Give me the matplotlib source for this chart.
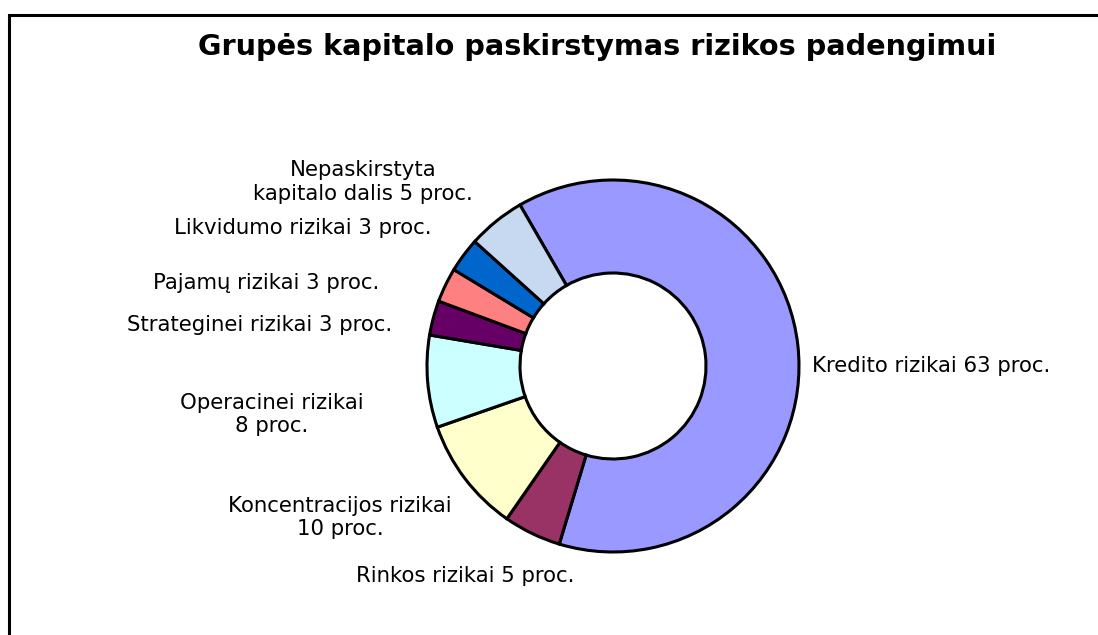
import matplotlib.pyplot as plt
from matplotlib.patches import Rectangle

# Duomenys
kategorijos = ["Kredito rizikai 63 proc.", "Rinkos rizikai 5 proc.",
               "Koncentracijos rizikai\n10 proc.", "Operacinei rizikai\n8 proc.",
               "Strateginei rizikai 3 proc.", "Pajamų rizikai 3 proc.",
               "Likvidumo rizikai 3 proc.", "Nepaskirstyta\nkapitalo dalis 5 proc."]
reiksmes = [63, 5, 10, 8, 3, 3, 3, 5]
spalvos = ["#9999FF", "#993366", "#FFFFCC", "#CCFFFF", "#660066", "#FF8080",
           "#0066CC", "#C6D9F0"]

# Etikečių vietos (ašies koordinatės, spindulys = 1)
etik_vietos = [(1.07, 0.0, 'left'), (-0.796, -1.13, 'center'), (-1.468, -0.815, 'center'),
               (-1.833, -0.261, 'center'), (-1.188, 0.220, 'right'), (-1.258, 0.446, 'right'),
               (-0.978, 0.742, 'right'), (-1.344, 0.989, 'center')]

fig = plt.figure(figsize=(10.98, 6.35), dpi=100)
fig.patch.set_facecolor('white')

# Rėmelis (matomi tik kairysis ir viršutinis kraštai)
fig.patches.append(Rectangle((9 / 1098, -0.1), 1.2, 0.1 + (635 - 14.5) / 635,
                             transform=fig.transFigure, fill=False,
                             edgecolor='black', linewidth=2.2, zorder=0))

fig.text(597 / 1098, 1 - 47 / 635, "Grupės kapitalo paskirstymas rizikos padengimui",
         fontsize=20.7, fontweight='bold', ha='center', va='center')

cx, cy, r = 613, 366, 186
ax = fig.add_axes([(cx - r) / 1098, (635 - cy - r) / 635, 2 * r / 1098, 2 * r / 635])
ax.pie(reiksmes, colors=spalvos, startangle=120, counterclock=False, radius=1,
       wedgeprops=dict(width=0.5, edgecolor='black', linewidth=2.2))
ax.set_xlim(-1, 1)
ax.set_ylim(-1, 1)
ax.set_aspect('equal')
ax.axis('off')

for tekstas, (x, y, ha) in zip(kategorijos, etik_vietos):
    ax.text(x, y, tekstas, fontsize=15.3, ha=ha, va='center', multialignment='center',
            linespacing=1.22, clip_on=False)

plt.savefig("out.png", dpi=100)
plt.close()
